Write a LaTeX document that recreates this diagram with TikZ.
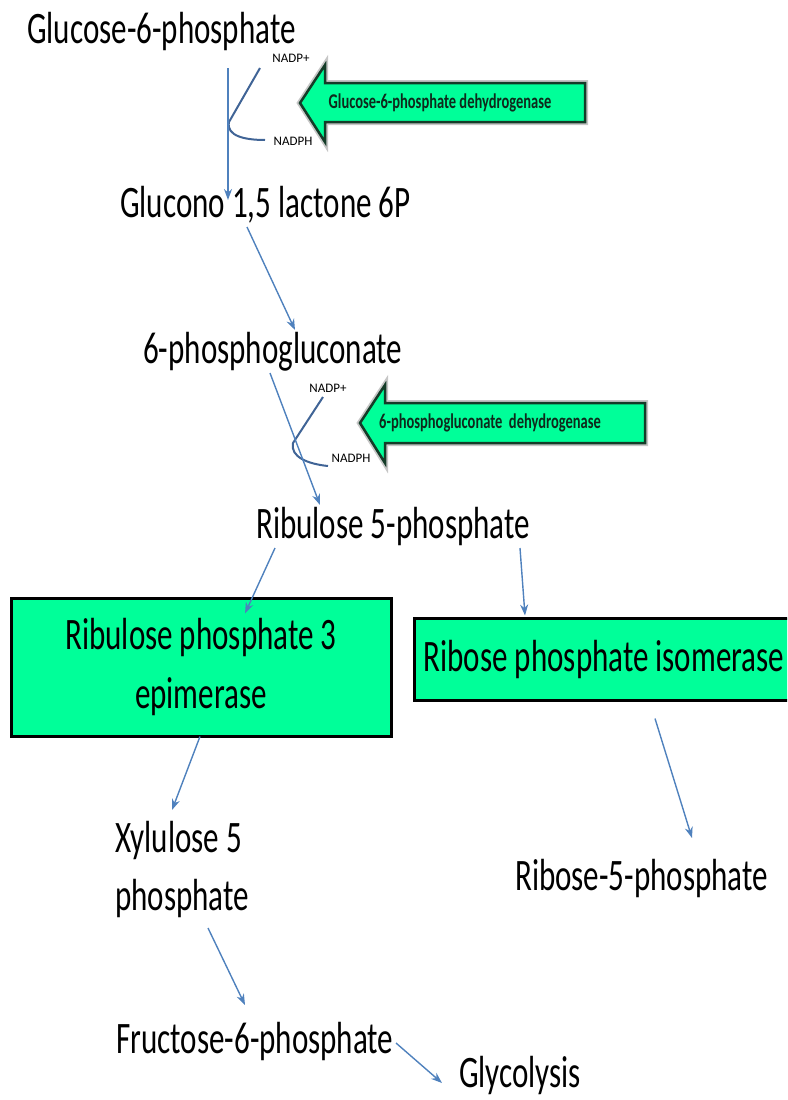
\documentclass[tikz,border=0pt]{standalone}
\usepackage{fontspec}
\setmainfont{Carlito}[FakeStretch=0.69]
\newfontfamily\cofont{Carlito}
\usetikzlibrary{arrows.meta}
\definecolor{enzgreen}{RGB}{0,255,153}
\definecolor{flowblue}{RGB}{79,129,189}
\definecolor{cofblue}{RGB}{64,100,150}
\definecolor{arrowedge}{RGB}{20,60,40}
\tikzset{met/.style={anchor=base west, inner sep=0pt, font=\fontsize{45}{58}\selectfont}}
\tikzset{enz/.style={rectangle, draw, line width=3pt, fill=enzgreen, align=center,
   font=\fontsize{45}{59}\selectfont}}
\tikzset{flow/.style={draw=flowblue, line width=1.4pt, -{Stealth[length=11pt,width=8pt]}}}
\tikzset{cof/.style={font=\cofont\fontsize{13}{13}\selectfont, inner sep=0pt}}
\tikzset{cofline/.style={draw=cofblue, line width=2pt}}
\tikzset{dehyd/.style={fill=enzgreen, draw=arrowedge, line width=2.5pt}}
\tikzset{dehydshadow/.style={draw=gray!45, line width=6pt}}
\tikzset{dehydtext/.style={font=\bfseries\fontsize{21}{21}\selectfont, text=arrowedge!70!black, inner sep=0pt}}

\begin{document}
\begin{tikzpicture}[x=1pt, y=-1pt]

    \useasboundingbox (0,0) rectangle (787,1100);
    \clip (0,0) rectangle (787,1100);

    \node[met] (g6p)  at (27,43)    {Glucose-6-phosphate};
    \node[met] (glc)  at (120,217)  {Glucono 1,5 lactone 6P};
    \node[met] (pg6)  at (143,363)  {6-phosphogluconate};
    \node[met] (ru5p) at (256,538)  {Ribulose 5-phosphate};
    \node[met, anchor=west, align=left] (xu5p) at (115,869) {Xylulose 5\\phosphate};
    \node[met] (r5p)  at (515,890)  {Ribose-5-phosphate};
    \node[met] (f6p)  at (116,1053) {Fructose-6-phosphate};
    \node[met] (gly)  at (459,1087) {Glycolysis};

    \node[enz, minimum width=380pt, minimum height=138pt] (epi) at (201,667) {Ribulose phosphate 3\\epimerase};
    \node[enz, minimum width=380pt, minimum height=82pt]  (rpi) at (604,659) {Ribose phosphate isomerase};

    \path[dehydshadow] (300,103) -- (325,65) -- (325,83) -- (585,83) -- (585,122) -- (325,122) -- (325,142) -- cycle;
    \path[dehyd] (300,103) -- (325,65) -- (325,83) -- (585,83) -- (585,122) -- (325,122) -- (325,142) -- cycle;
    \node[dehydtext] (g6pd) at (440,103) {Glucose-6-phosphate dehydrogenase};

    \path[dehydshadow] (360,423) -- (385,385) -- (385,403) -- (645,403) -- (645,443) -- (385,443) -- (385,463) -- cycle;
    \path[dehyd] (360,423) -- (385,385) -- (385,403) -- (645,403) -- (645,443) -- (385,443) -- (385,463) -- cycle;
    \node[dehydtext] (pgd) at (490,423) {6-phosphogluconate\ \ dehydrogenase};

    \node[cof] (nadpa) at (291,58)  {NADP+};
    \node[cof] (nadpb) at (293,141) {NADPH};
    \node[cof] (nadpc) at (328,388) {NADP+};
    \node[cof] (nadpd) at (351,458) {NADPH};

    \draw[cofline] ([shift={(-31,10)}]nadpa.center) -- ++(-31,54)
       .. controls +(-3,14) and +(-20,0) .. ([shift={(-28,-1)}]nadpb.center);
    \draw[cofline] ([shift={(-5,9)}]nadpc.center) -- ++(-30,46)
       .. controls +(-3,14) and +(-20,-2) .. ([shift={(-23,8)}]nadpd.center);

    \draw[flow] ([shift={(201,25)}]g6p.base west) -- ([shift={(108,-17)}]glc.base west);
    \draw[flow] ([shift={(127,10)}]glc.base west) -- ([shift={(152,-33)}]pg6.base west);
    \draw[flow] ([shift={(127,10)}]pg6.base west) -- ([shift={(64,-33)}]ru5p.base west);
    \draw[flow] ([shift={(19,10)}]ru5p.base west) -- ([shift={(44,17)}]epi.north);
    \draw[flow] ([shift={(264,10)}]ru5p.base west) -- ([shift={(-79,-1)}]rpi.north);
    \draw[flow] ([shift={(-1,-1)}]epi.south) -- ([shift={(57,-59)}]xu5p.west);
    \draw[flow] ([shift={(51,17)}]rpi.south) -- ([shift={(177,-52)}]r5p.base west);
    \draw[flow] ([shift={(93,59)}]xu5p.west) -- ([shift={(129,-48)}]f6p.base west);
    \draw[flow] ([shift={(280,-10)}]f6p.base west) -- ([shift={(-17,-4)}]gly.base west);

\end{tikzpicture}
\end{document}
